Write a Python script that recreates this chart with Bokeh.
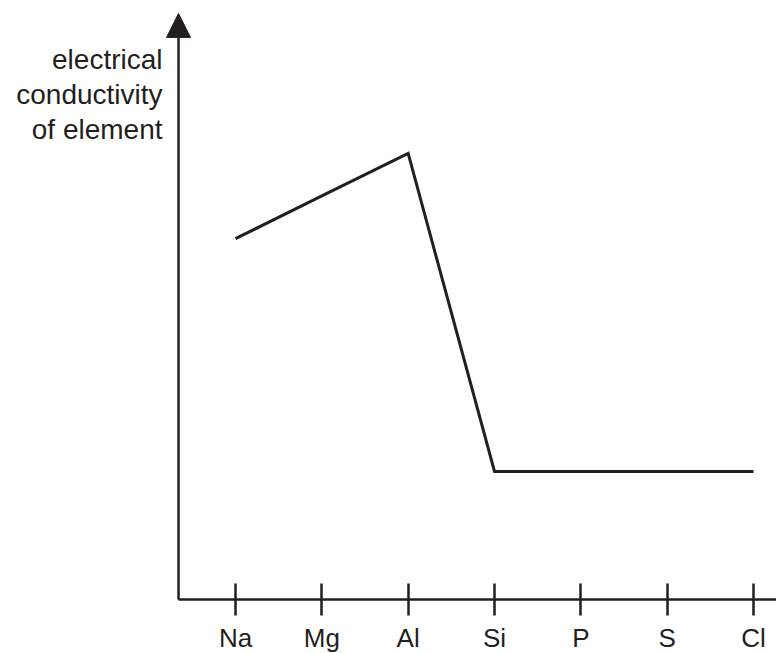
from bokeh.plotting import figure
from bokeh.models import Range1d, FixedTicker, Arrow, NormalHead, ColumnDataSource
from bokeh.core.properties import value
from bokeh.embed import file_html
from bokeh.resources import INLINE

# ---- data ----
elements = ["Na", "Mg", "Al", "Si", "P", "S", "Cl"]
conductivity = [80.9, 90.5, 100.0, 28.7, 28.7, 28.7, 28.7]
y_label_lines = ["electrical", "conductivity", "of element"]

INK = "#231f20"
FONT = "Liberation Sans"

x_idx = list(range(len(elements)))

# layout helpers (pixels per data unit)
PX_X = 86.333
PX_Y = 4.46
Y_AXIS_X = -0.66          # y-axis line sits left of first category
X_START = -2.722
X_END = 6.2664

p = figure(width=776, height=653, output_backend="svg", toolbar_location=None,
           x_range=Range1d(X_START, X_END), y_range=Range1d(-12.11, 134.30),
           min_border_left=0, min_border_right=0, min_border_top=0,
           min_border_bottom=0)
p.grid.visible = False
p.outline_line_color = None
p.yaxis.visible = False
p.background_fill_color = "white"
p.border_fill_color = "white"

ax = p.xaxis[0]
ax.fixed_location = 0
ax.bounds = (Y_AXIS_X, X_END)
ax.ticker = FixedTicker(ticks=x_idx)
ax.major_label_overrides = {i: e for i, e in zip(x_idx, elements)}
ax.axis_line_color = INK
ax.axis_line_width = 2.5
ax.major_tick_in = 16
ax.major_tick_out = 16
ax.major_tick_line_width = 2.5
ax.major_tick_line_color = INK
ax.minor_tick_line_color = None
ax.major_label_text_font = FONT
ax.major_label_text_font_size = "26px"
ax.major_label_text_color = INK
ax.major_label_standoff = 8

# y axis with arrow head
p.add_layout(Arrow(x_start=Y_AXIS_X, y_start=0, x_end=Y_AXIS_X, y_end=131.4,
                   line_width=2.5, line_color=INK,
                   end=NormalHead(size=24, fill_color=INK, line_color=INK,
                                  line_width=1)))

# y label (three right-aligned lines)
top_y = (599 - 59) / PX_Y
step = 35 / PX_Y
label_src = ColumnDataSource(dict(
    x=[Y_AXIS_X - 16 / PX_X] * len(y_label_lines),
    y=[top_y - i * step for i in range(len(y_label_lines))],
    text=y_label_lines))
p.text(x="x", y="y", text="text", source=label_src, text_align="right",
       text_baseline="alphabetic", text_font=value(FONT),
       text_font_size="28px", text_color=INK)

# data line
p.line(x=x_idx, y=conductivity, line_width=3, line_color=INK,
       line_join="miter")

open("out.html", "w").write(file_html(p, INLINE))
